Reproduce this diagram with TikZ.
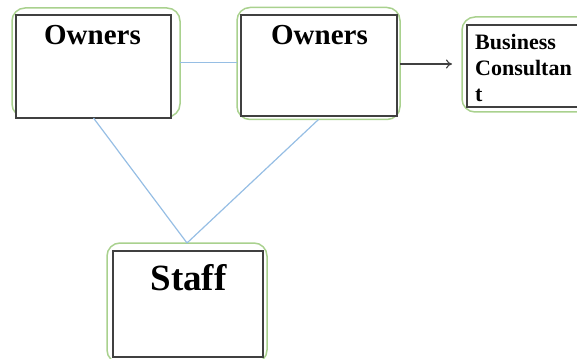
\documentclass[tikz,border=0pt]{standalone}
\usepackage{fontspec}
\setmainfont{Liberation Serif}
\usetikzlibrary{arrows.meta}
\definecolor{frgreen}{RGB}{169,209,142}
\definecolor{lnblue}{RGB}{150,190,228}
\definecolor{boxgray}{RGB}{64,64,64}
\tikzset{
  glow/.style={draw=frgreen, line width=1.5pt, rounded corners=13pt, inner sep=0pt, outer sep=0pt},
  card/.style={draw=boxgray, line width=1.3pt, fill=white, inner sep=0pt, outer sep=0pt},
  link/.style={draw=lnblue, line width=1.2pt},
  flow/.style={draw=boxgray, line width=1.1pt, -{To[length=6pt,width=9pt]}},
  lbl/.style={font=\bfseries, inner sep=0pt, anchor=base}
}
\begin{document}
\begin{tikzpicture}[x=1pt,y=-1pt]
\useasboundingbox (0,0) rectangle (577,358);
% box 1
\node[glow, minimum width=168pt, minimum height=109pt] (g1) at (96,62.5) {};
\node[card, minimum width=155pt, minimum height=103pt] (b1) at (93.5,66.5) {};
\node[lbl, font=\bfseries\fontsize{29}{31}\selectfont] (t1) at (92.5,45) {Owners};
% box 2
\node[glow, minimum width=163pt, minimum height=112pt] (g2) at (318.5,63.5) {};
\node[card, minimum width=156pt, minimum height=101pt] (b2) at (319,65.5) {};
\node[lbl, font=\bfseries\fontsize{29}{31}\selectfont] (t2) at (319.5,45) {Owners};
% box 3
\node[glow, minimum width=140pt, minimum height=95pt] (g3) at (532,64.5) {};
\node[card, minimum width=130pt, minimum height=82pt] (b3) at (532,66) {};
\node[font=\bfseries\fontsize{22}{26}\selectfont, inner sep=0pt, anchor=base west, align=left] (t3) at (475,102) {Business\\Consultan\\t};
% staff box
\node[glow, minimum width=160pt, minimum height=120pt] (g4) at (187,303) {};
\node[card, minimum width=150pt, minimum height=106pt] (b4) at (188,304) {};
\node[lbl, font=\bfseries\fontsize{37}{40}\selectfont] (t4) at (188.5,290) {Staff};
% connectors
\draw[link] (g1.east) -- (g1.east -| g2.west);
\draw[link] (b1.south) -- (g4.north);
\draw[link] (g2.south) -- (g4.north);
\coordinate (ae) at (452,64);
\draw[flow] (g2.east |- ae) -- (ae);
\end{tikzpicture}
\end{document}
